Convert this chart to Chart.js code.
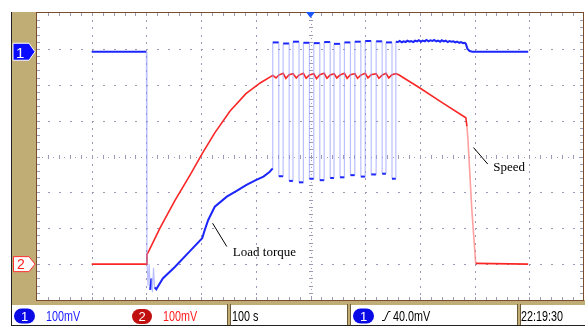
<!DOCTYPE html>
<html>
<head>
<meta charset="utf-8">
<script src="https://cdn.jsdelivr.net/npm/chart.js@4.4.1/dist/chart.umd.min.js"></script>
<style>
  html, body { margin: 0; padding: 0; background: #fff; }
  canvas { display: block; }
</style>
</head>
<body>
<canvas id="scopeChart" width="585" height="327"></canvas>
<script>
// Channel 1 (load torque), time in s, level in mV
const torqueTime = [
  100, 200, 201, 203, 205, 207, 209, 211, 213, 215, 218, 230, 252, 280, 302, 306, 313, 325, 347, 365, 383, 400, 414, 425, 431,
  431, 442, 442, 450, 450, 461, 461, 468, 468, 479, 479, 487, 487, 498, 498, 506, 506, 517, 517, 525, 525, 536, 536, 543,
  543, 554, 554, 562, 562, 573, 573, 581, 581, 592, 592, 600, 600, 611, 611, 620, 620, 631, 631, 638, 638, 649, 649, 656, 656,
  660, 663, 667, 670, 674, 677, 681, 684, 688, 691, 695, 698, 702, 705, 709, 712, 716, 719, 723, 726, 730, 733, 737, 740,
  744, 747, 751, 754, 758, 761, 765, 768, 772, 775, 779, 782, 784,
  787, 791, 796, 898
];
const torqueMv = [
  0, 0, -582, -652, -592, -664, -632, -670, -602, -657, -662, -632, -600, -555, -520, -500, -469, -432, -404, -388, -371, -358, -348, -335, -325,
  26, 26, -347, -347, 23, 23, -360, -360, 28, 28, -364, -364, 25, 25, -354, -354, 24, 24, -358, -358, 27, 27, -352, -352,
  22, 22, -350, -350, 26, 26, -344, -344, 28, 28, -348, -348, 30, 30, -342, -342, 29, 29, -340, -340, 26, 26, -354, -354, 28,
  27, 30, 26, 29, 27, 31, 28, 30, 27, 31, 29, 32, 28, 31, 29, 33, 29, 32, 30, 33, 29, 31, 28, 32,
  29, 31, 27, 30, 28, 29, 26, 28, 25, 27, 24, 25, 22,
  8, 2, 0, 0
];

// Channel 2 (speed)
const speedTime = [
  100, 200, 201, 203, 225, 252, 280, 302, 325, 353, 382, 408, 431,
  437, 442, 450, 455, 461, 468, 474, 479, 487, 492, 498, 506, 511, 517, 525, 530, 536, 543, 548, 554,
  562, 567, 573, 581, 586, 592, 600, 605, 611, 620, 625, 631, 638, 643, 649, 656, 662,
  700, 740, 784, 786, 788, 792, 795, 799, 802, 898
];
const speedMv = [
  0, 0, 28, 32, 101, 177, 249, 308, 366, 427, 475, 505, 526,
  519, 527, 532, 518, 528, 531, 519, 527, 532, 518, 527, 531, 517, 528, 532, 518, 527, 531, 519, 527,
  532, 518, 528, 531, 518, 527, 532, 519, 528, 531, 518, 527, 532, 519, 528, 531, 527,
  491, 451, 408, 384, 344, 232, 150, 66, 2, 0
];

const channelLabels = ['100mV', '100mV'];
const timebaseLabel = '100 s';
const triggerLabel = '40.0mV';
const clockLabel = '22:19:30';

const notes = [
  { text: 'Load torque', axis: 'y1', from: [321, -478], to: [347, -543], at: [358, -561] },
  { text: 'Speed', axis: 'y2', from: [798, 325], to: [824, 279], at: [834, 270] }
];

const TAN = '#c0ad75';
const FRAME = '#7a4b2c';
const DOT = '#9a9ab4';
const BLUE = 'rgb(28,38,250)';
const PALE_BLUE = 'rgba(140,150,255,0.6)';
const RED = 'rgb(250,38,38)';
const PALE_RED = 'rgba(255,120,120,0.7)';

function pairs(xs, ys) {
  return xs.map((t, i) => ({ x: t, y: ys[i] }));
}

function steep(c) {
  const dx = Math.abs(c.p1.x - c.p0.x);
  const dy = Math.abs(c.p1.y - c.p0.y);
  return dy > 12 && dy > 4 * dx;
}

function condensed(ctx, text, x, y, color) {
  ctx.save();
  ctx.translate(x, y);
  ctx.scale(0.77, 1);
  ctx.fillStyle = color;
  ctx.fillText(text, 0, 0);
  ctx.restore();
}

function pill(ctx, x, y, w, h, fill, label) {
  ctx.beginPath();
  ctx.roundRect(x, y, w, h, h / 2);
  ctx.fillStyle = fill;
  ctx.fill();
  ctx.fillStyle = '#fff';
  ctx.font = '13px "Liberation Sans"';
  ctx.textAlign = 'center';
  ctx.fillText(label, x + w / 2, y + h - 3);
  ctx.textAlign = 'left';
}

const scopeFrame = {
  id: 'scopeFrame',
  beforeDraw(chart) {
    const { ctx, chartArea: a, scales } = chart;
    const w = a.right - a.left, h = a.bottom - a.top;
    ctx.save();
    ctx.fillStyle = '#fff';
    ctx.fillRect(0, 0, chart.width, chart.height);

    // tan surround
    ctx.fillStyle = TAN;
    ctx.fillRect(12, a.top - 1, a.left - 12, h + 6);
    ctx.fillRect(12, a.bottom, chart.width - 12, 5);
    ctx.fillStyle = '#222';
    ctx.fillRect(11, a.top - 1, 1, chart.height - a.top);

    // dotted graticule
    ctx.fillStyle = DOT;
    for (let i = 1; i < 10; i++) {
      const gx = Math.round(scales.x.getPixelForValue(i * 100));
      if (i === 5) continue;
      for (let k = 1; k < 40; k++) ctx.fillRect(gx, Math.round(a.top + k * h / 40), 1, 2);
    }
    for (let j = 1; j < 8; j++) {
      const gy = Math.round(scales.y2.getPixelForValue(-100 + j * 100));
      if (j === 4) continue;
      for (let k = 1; k < 50; k++) ctx.fillRect(Math.round(a.left + k * w / 50), gy, 2, 1);
    }
    // centre axes with minor ticks
    const cx = Math.round(scales.x.getPixelForValue(500));
    const cy = Math.round(scales.y2.getPixelForValue(300));
    for (let k = 1; k < 80; k++) {
      const y = Math.round(a.top + k * h / 80);
      if (k % 2) ctx.fillRect(cx, y, 1, 1);
      else ctx.fillRect(cx - 2, y, 4, 1);
    }
    for (let k = 1; k < 100; k++) {
      const x = Math.round(a.left + k * w / 100);
      if (k % 2) ctx.fillRect(x, cy, 1, 1);
      else ctx.fillRect(x, cy - 2, 1, 4);
    }
    // border ticks
    for (let k = 1; k < 50; k++) {
      const x = Math.round(a.left + k * w / 50);
      ctx.fillRect(x, a.top, 1, 3);
      ctx.fillRect(x, a.bottom - 3, 1, 3);
    }
    for (let k = 1; k < 40; k++) {
      const y = Math.round(a.top + k * h / 40);
      ctx.fillRect(a.left, y, 3, 1);
      ctx.fillRect(a.right - 4, y, 3, 1);
    }

    // frame
    ctx.strokeStyle = FRAME;
    ctx.lineWidth = 1;
    ctx.strokeRect(a.left - 0.5, a.top - 0.5, w, h + 1);
    ctx.restore();
  },
  afterDraw(chart) {
    const { ctx, chartArea: a, scales } = chart;
    ctx.save();

    // channel markers
    const m1 = scales.y1.getPixelForValue(0);
    ctx.beginPath();
    ctx.moveTo(13, m1 - 8.5); ctx.lineTo(29, m1 - 8.5); ctx.lineTo(35, m1); ctx.lineTo(29, m1 + 8.5); ctx.lineTo(13, m1 + 8.5);
    ctx.closePath();
    ctx.fillStyle = '#0a0aff'; ctx.fill();
    ctx.strokeStyle = '#fff'; ctx.lineWidth = 1; ctx.stroke();
    ctx.fillStyle = '#fff';
    ctx.font = '15px "Liberation Sans"';
    ctx.fillText('1', 16, m1 + 6);

    const m2 = scales.y2.getPixelForValue(0);
    ctx.beginPath();
    ctx.moveTo(13.5, m2 - 7.5); ctx.lineTo(29, m2 - 7.5); ctx.lineTo(35, m2); ctx.lineTo(29, m2 + 7.5); ctx.lineTo(13.5, m2 + 7.5);
    ctx.closePath();
    ctx.fillStyle = '#fff'; ctx.fill();
    ctx.strokeStyle = '#ff3030'; ctx.stroke();
    ctx.fillStyle = '#ff2020';
    ctx.font = '14px "Liberation Sans"';
    ctx.fillText('2', 17, m2 + 5);

    // trigger position marker
    const tx = scales.x.getPixelForValue(500);
    ctx.beginPath();
    ctx.moveTo(tx - 4.5, a.top - 1); ctx.lineTo(tx + 4.5, a.top - 1); ctx.lineTo(tx, a.top + 5);
    ctx.closePath();
    ctx.fillStyle = '#1a55ff'; ctx.fill();

    // annotations
    ctx.strokeStyle = '#000';
    ctx.lineWidth = 1;
    ctx.fillStyle = '#000';
    ctx.font = '13px "Liberation Serif"';
    ctx.textBaseline = 'middle';
    notes.forEach(n => {
      const ys = scales[n.axis];
      ctx.beginPath();
      ctx.moveTo(scales.x.getPixelForValue(n.from[0]), ys.getPixelForValue(n.from[1]));
      ctx.lineTo(scales.x.getPixelForValue(n.to[0]), ys.getPixelForValue(n.to[1]));
      ctx.stroke();
      ctx.fillText(n.text, scales.x.getPixelForValue(n.at[0]), ys.getPixelForValue(n.at[1]));
    });
    ctx.textBaseline = 'alphabetic';

    // status bar
    const top = 305, bottom = 325;
    ctx.fillStyle = '#fff';
    ctx.fillRect(12, top, chart.width - 12, bottom - top);
    ctx.fillStyle = '#222';
    ctx.fillRect(11, bottom, chart.width - 11, 1);
    [229, 349, 519].forEach(sx => {
      ctx.fillStyle = '#6b5a35';
      ctx.fillRect(sx - 2, top - 1, 4, bottom - top + 1);
      ctx.fillStyle = TAN;
      ctx.fillRect(sx - 1, top - 1, 2, bottom - top + 1);
    });

    pill(ctx, 14, 308.5, 21, 15, '#0a0ae6', '1');
    pill(ctx, 132, 309, 20, 15, '#c01010', '2');
    pill(ctx, 353, 308.5, 21, 15, '#0a0ae6', '1');

    ctx.font = '14px "Liberation Sans"';
    condensed(ctx, channelLabels[0], 46, 321, '#1a1aff');
    condensed(ctx, channelLabels[1], 163, 321, '#ff1a1a');
    condensed(ctx, timebaseLabel, 232, 321, '#000');
    condensed(ctx, triggerLabel, 393, 321, '#000');
    condensed(ctx, clockLabel, 521, 321, '#000');

    // rising-edge trigger glyph
    ctx.strokeStyle = '#000';
    ctx.beginPath();
    ctx.moveTo(382, 320.5); ctx.lineTo(384.5, 320.5); ctx.lineTo(388.5, 311.5); ctx.lineTo(390.5, 311.5);
    ctx.stroke();
    ctx.restore();
  }
};

new Chart(document.getElementById('scopeChart'), {
  type: 'line',
  data: {
    datasets: [
      {
        label: 'Load torque',
        data: pairs(torqueTime, torqueMv),
        yAxisID: 'y1',
        borderColor: BLUE,
        borderWidth: 2,
        pointRadius: 0,
        tension: 0,
        segment: {
          borderColor: c => steep(c) ? PALE_BLUE : undefined,
          borderWidth: c => steep(c) ? 1.2 : undefined
        }
      },
      {
        label: 'Speed',
        data: pairs(speedTime, speedMv),
        yAxisID: 'y2',
        borderColor: RED,
        borderWidth: 1.6,
        pointRadius: 0,
        tension: 0,
        segment: {
          borderColor: c => steep(c) ? PALE_RED : undefined
        }
      }
    ]
  },
  options: {
    responsive: false,
    animation: false,
    devicePixelRatio: 1,
    layout: { padding: { left: 37, top: 13, right: 1, bottom: 27 } },
    plugins: { legend: { display: false }, tooltip: { enabled: false } },
    scales: {
      x: { type: 'linear', min: 0, max: 1000, display: false },
      y1: { type: 'linear', min: -692, max: 108, display: false },
      y2: { type: 'linear', min: -100, max: 700, display: false }
    }
  },
  plugins: [scopeFrame]
});
</script>
</body>
</html>
